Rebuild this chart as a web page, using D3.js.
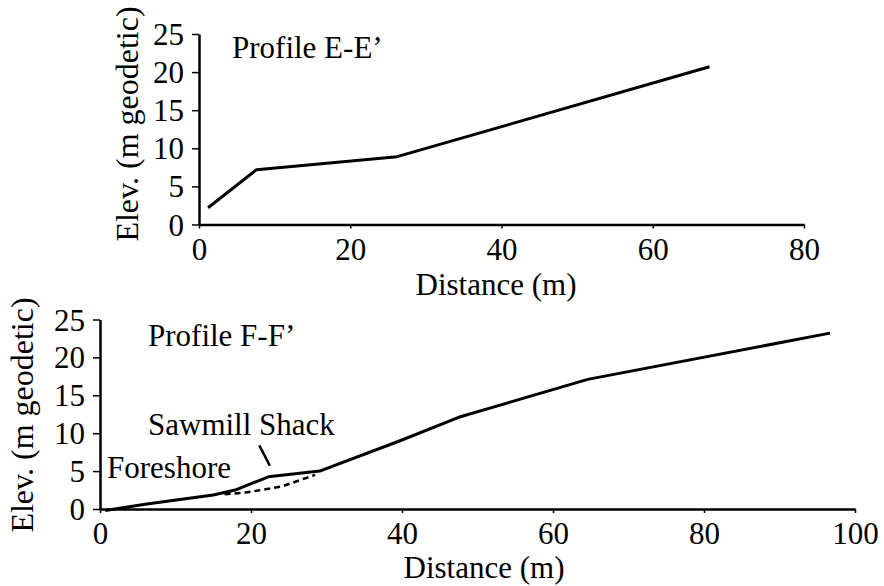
<!DOCTYPE html>
<html>
<head>
<meta charset="utf-8">
<script src="https://cdn.jsdelivr.net/npm/d3@7"></script>
<style>
  html, body { margin: 0; padding: 0; background: #fff; }
  svg { display: block; }
  text { font-family: "Liberation Serif", "Times New Roman", serif; fill: #000; }
</style>
</head>
<body>
<svg id="chart" width="884" height="586"></svg>
<script>
// Profile E-E' (distance m, elevation m geodetic)
const profileEDist = [1.2, 7.6, 26.2, 67.5];
const profileEElev = [2.2, 7.2, 8.9, 20.7];

// Profile F-F' surveyed ground surface
const profileFDist = [0.7, 6.2, 15, 17.9, 22.3, 29.1, 40, 47.5, 64.6, 96.7];
const profileFElev = [-0.2, 0.65, 1.85, 2.5, 4.25, 5.0, 9.1, 12.1, 17.1, 23.2];

// Profile F-F' inferred surface beneath the sawmill shack (dashed)
const profileFAltDist = [16.5, 19.5, 24, 28.5];
const profileFAltElev = [1.95, 2.2, 2.95, 4.5];

// Axis ticks
const elevTicks = [0, 5, 10, 15, 20, 25];
const distTicksE = [0, 20, 40, 60, 80];
const distTicksF = [0, 20, 40, 60, 80, 100];

// Labels
const titleE = "Profile E-E\u2019";
const titleF = "Profile F-F\u2019";
const yTitle = "Elev. (m geodetic)";
const xTitle = "Distance (m)";
const foreshoreLabel = "Foreshore";
const shackLabel = "Sawmill Shack";

const svg = d3.select("#chart");
const FONT = 31;

function drawPanel(cfg) {
  const x = d3.scaleLinear().domain(cfg.xDomain).range(cfg.xRange);
  const y = d3.scaleLinear().domain([0, 25]).range(cfg.yRange);
  const g = svg.append("g");

  // y axis
  const yAxis = g.append("g")
    .attr("transform", `translate(${cfg.xRange[0]},0)`)
    .call(d3.axisLeft(y).tickValues(elevTicks).tickSize(7).tickSizeOuter(0).tickPadding(8));
  // x axis
  const xAxis = g.append("g")
    .attr("transform", `translate(0,${cfg.yRange[0]})`)
    .call(d3.axisBottom(x).tickValues(cfg.xTicks).tickSize(4).tickSizeOuter(0));

  [yAxis, xAxis].forEach(ax => {
    ax.select(".domain").attr("stroke", "#000").attr("stroke-width", 2.5);
    ax.selectAll(".tick line").attr("stroke", "#000").attr("stroke-width", 1.5);
    ax.selectAll(".tick text")
      .style("font-family", '"Liberation Serif", "Times New Roman", serif')
      .style("font-size", FONT + "px")
      .attr("fill", "#000");
  });
  yAxis.selectAll(".tick text").attr("dy", "0.34em");
  xAxis.selectAll(".tick text").attr("y", 35).attr("dy", 0);

  // axis titles
  g.append("text")
    .attr("transform", `translate(${cfg.yTitleX},${cfg.yTitleY}) rotate(-90)`)
    .attr("text-anchor", "middle")
    .style("font-size", "32px")
    .text(yTitle);
  g.append("text")
    .attr("x", cfg.xTitleX)
    .attr("y", cfg.xTitleY)
    .attr("text-anchor", "middle")
    .style("font-size", FONT + "px")
    .text(xTitle);

  // panel title
  g.append("text")
    .attr("x", cfg.titlePos[0])
    .attr("y", cfg.titlePos[1])
    .style("font-size", FONT + "px")
    .text(cfg.title);

  return { g, x, y };
}

const line = (x, y) => d3.line().x(d => x(d[0])).y(d => y(d[1]));

// ---- Upper panel: Profile E-E'
const panelE = drawPanel({
  xDomain: [0, 80], xRange: [199, 804], yRange: [224.5, 34],
  xTicks: distTicksE, yTitleX: 138, yTitleY: 124, xTitleX: 496, xTitleY: 295,
  title: titleE, titlePos: [232, 58]
});
panelE.g.append("path")
  .datum(profileEDist.map((d, i) => [d, profileEElev[i]]))
  .attr("d", line(panelE.x, panelE.y))
  .attr("fill", "none").attr("stroke", "#000").attr("stroke-width", 3)
  .attr("stroke-linejoin", "round");

// ---- Lower panel: Profile F-F'
const panelF = drawPanel({
  xDomain: [0, 100], xRange: [100, 855], yRange: [509, 319.5],
  xTicks: distTicksF, yTitleX: 33, yTitleY: 415, xTitleX: 484, xTitleY: 578,
  title: titleF, titlePos: [148, 346]
});
panelF.g.append("path")
  .datum(profileFAltDist.map((d, i) => [d, profileFAltElev[i]]))
  .attr("d", line(panelF.x, panelF.y))
  .attr("fill", "none").attr("stroke", "#000").attr("stroke-width", 2.5)
  .attr("stroke-dasharray", "6,4");
panelF.g.append("path")
  .datum(profileFDist.map((d, i) => [d, profileFElev[i]]))
  .attr("d", line(panelF.x, panelF.y))
  .attr("fill", "none").attr("stroke", "#000").attr("stroke-width", 3)
  .attr("stroke-linejoin", "round");

// annotations
panelF.g.append("text").attr("x", 107).attr("y", 478)
  .style("font-size", FONT + "px").text(foreshoreLabel);
panelF.g.append("text").attr("x", 148).attr("y", 435)
  .style("font-size", FONT + "px").text(shackLabel);
// leader from the shack label down to the raised section of the profile
panelF.g.append("line")
  .attr("x1", panelF.x(21.1)).attr("y1", panelF.y(8.4))
  .attr("x2", panelF.x(22.5)).attr("y2", panelF.y(5.7))
  .attr("stroke", "#000").attr("stroke-width", 2.5);
</script>
</body>
</html>
